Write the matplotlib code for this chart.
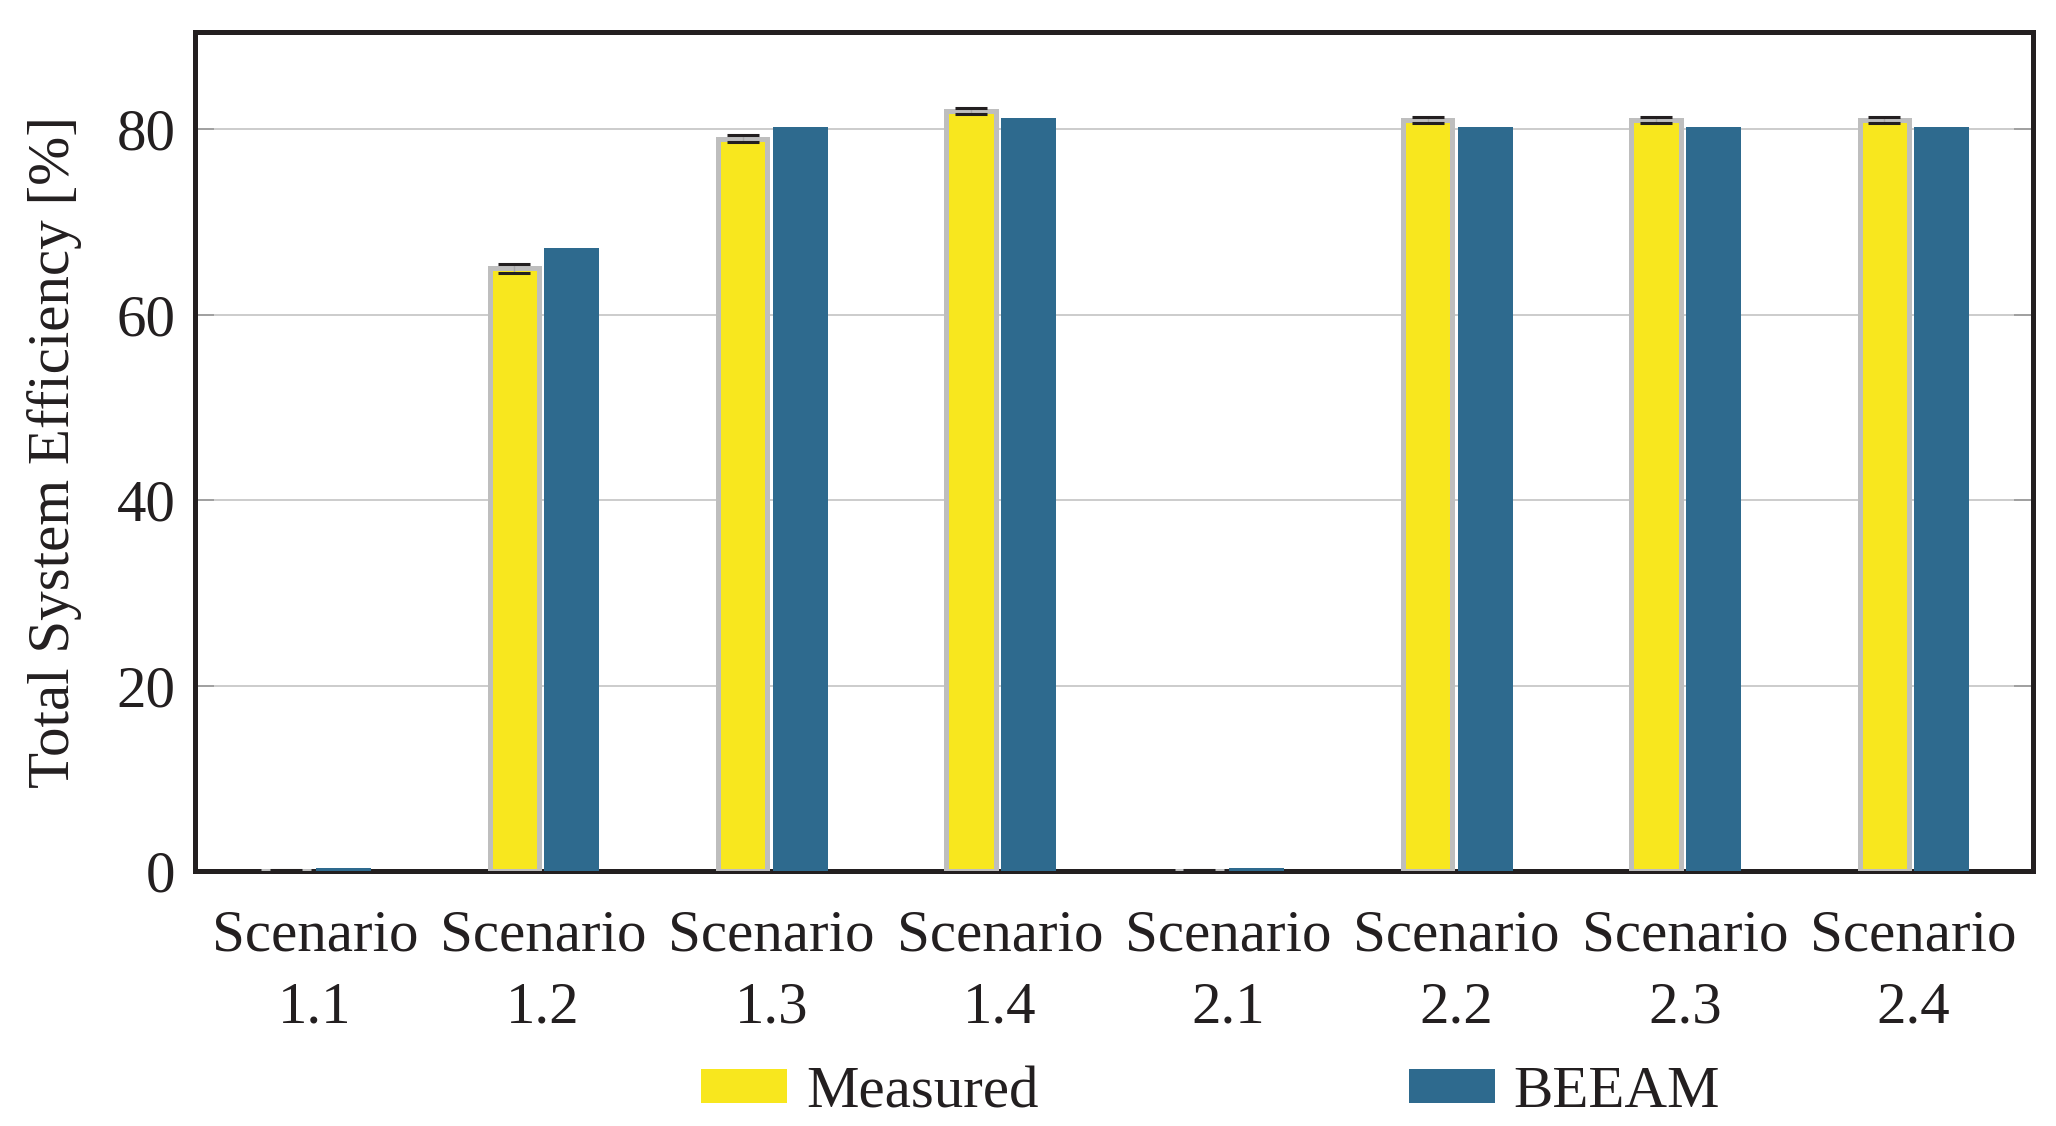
import numpy as np
import matplotlib.pyplot as plt
from matplotlib.patches import Patch

plt.rcParams['font.family'] = ['Liberation Serif', 'DejaVu Serif']

scenarios = ["Scenario\n1.1", "Scenario\n1.2", "Scenario\n1.3", "Scenario\n1.4",
             "Scenario\n2.1", "Scenario\n2.2", "Scenario\n2.3", "Scenario\n2.4"]
measured = [0.0, 65.0, 79.0, 82.0, 0.0, 81.0, 81.0, 81.0]
measured_err = [0.1, 0.45, 0.4, 0.3, 0.1, 0.3, 0.3, 0.3]
beeam = [0.3, 67.2, 80.2, 81.2, 0.3, 80.2, 80.2, 80.2]
series_names = ["Measured", "BEEAM"]
yticks = [0, 20, 40, 60, 80]

yellow = '#f8e71e'
blue = '#2e6a8e'
ink = '#231f20'

fig = plt.figure(figsize=(20.56, 11.26), dpi=100)
ax = fig.add_axes([0.0948, 0.2265, 0.9888 - 0.0948, 0.9716 - 0.2265])

x = np.arange(len(scenarios))
off = 0.126

ax.bar(x - off, measured, width=0.215, color=yellow, edgecolor='#bebebe',
       linewidth=3.6, zorder=3)
ax.bar(x + off, beeam, width=0.241, color=blue, linewidth=0, zorder=3)

# error bars: thin grey stem, dark caps
eb = ax.errorbar(x - off, measured, yerr=measured_err, fmt='none', ecolor='#a8a8a8',
                 elinewidth=1.0, capsize=11.5, capthick=2.2, zorder=4)
for cl in eb[1]:
    cl.set_markeredgecolor(ink)
    cl.set_markerfacecolor(ink)

ax.set_xlim(-0.525, 7.525)
ax.set_ylim(0, 90.5)
ax.set_yticks(yticks)
ax.set_xticks(x)
ax.set_xticklabels(scenarios, fontsize=42.5, color=ink, linespacing=1.43)
ax.set_yticklabels([str(v) for v in yticks], fontsize=42.5, color=ink)

ax.yaxis.grid(True, color='#c8c8c8', linewidth=1.3)
ax.set_axisbelow(True)
ax.tick_params(axis='y', which='both', direction='in', length=13.7, width=1.2,
               color='#999999', left=True, right=True, pad=14)
ax.tick_params(axis='x', length=0, pad=28)

for s in ax.spines.values():
    s.set_linewidth(3.6)
    s.set_color(ink)

fig.text(0.0263, 0.5986, "Total System Efficiency [%]", rotation=90,
         ha='center', va='center', fontsize=42.5, color=ink)

handles = [Patch(facecolor=yellow, edgecolor='none'), Patch(facecolor=blue, edgecolor='none')]
leg = fig.legend(handles, series_names, loc='center left', bbox_to_anchor=(701 / 2056, 1 - 1093 / 1126),
                 ncol=2, frameon=False, fontsize=42.5, handlelength=1.46, handleheight=0.49,
                 handletextpad=0.32, columnspacing=6.27, borderpad=0, borderaxespad=0)
for t in leg.get_texts():
    t.set_color(ink)

fig.savefig('out.png', dpi=100)
